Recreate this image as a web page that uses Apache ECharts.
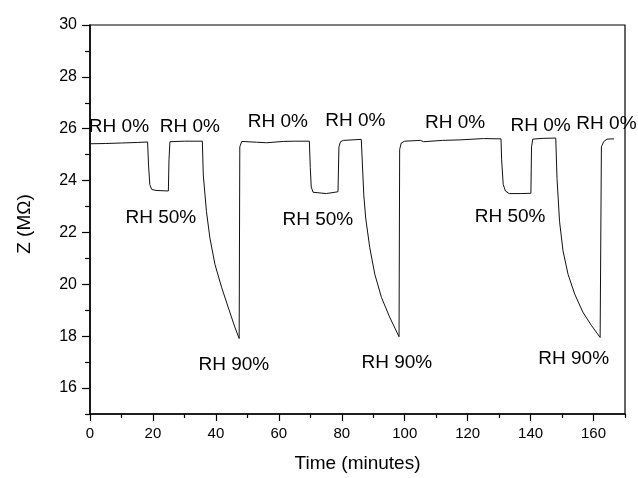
<!DOCTYPE html>
<html>
<head>
<meta charset="utf-8">
<script src="https://cdn.jsdelivr.net/npm/echarts@6/dist/echarts.min.js"></script>
<style>html,body{margin:0;padding:0;background:#fff;}#c{width:638px;height:478px;}</style>
</head>
<body>
<div id="c"></div>
<script>
// Time (minutes)
var times = [
  0, 5, 10, 15, 18.3, 18.6, 19.0, 19.6, 21, 24.9, 25.1, 25.4, 30, 35.7,
  36.0, 37.0, 38.1, 39.7, 41.8, 43.9, 46.0, 47.4, 47.6, 48.2, 52.9, 56.1, 61.4, 65, 69.7,
  70.0, 70.3, 70.9, 75.1, 78.8, 79.1, 79.6, 80.5, 86.2,
  86.6, 87.0, 87.6, 88.9, 90.5, 92.6, 95.2, 98.2, 98.4, 98.9, 100, 105, 106, 112, 117.5, 118, 125, 130.6,
  130.8, 131.3, 132, 133.2, 137, 140.1, 140.3, 140.7, 144, 148.0,
  148.4, 149.2, 150.3, 151.9, 154.0, 156.6, 159.3, 162.1, 162.5, 163.2, 164.3, 166.5
];
// Z (MOhm)
var values = [
  25.42, 25.43, 25.45, 25.47, 25.49, 24.6, 23.85, 23.66, 23.62, 23.60, 24.8, 25.50, 25.52, 25.52,
  24.21, 22.81, 21.79, 20.77, 19.89, 19.12, 18.36, 17.91, 25.30, 25.51, 25.48, 25.46, 25.51, 25.52, 25.52,
  24.50, 23.75, 23.55, 23.50, 23.57, 25.30, 25.50, 25.55, 25.59,
  25.55, 23.45, 22.56, 21.41, 20.39, 19.50, 18.74, 17.98, 25.20, 25.45, 25.52, 25.55, 25.50, 25.55, 25.57, 25.61, 25.62, 25.61,
  24.80, 23.85, 23.60, 23.50, 23.50, 23.51, 25.30, 25.60, 25.63, 25.64,
  24.08, 22.43, 21.29, 20.39, 19.63, 18.93, 18.42, 17.95, 25.30, 25.50, 25.60, 25.61
];
// Annotations
var labelTexts = ['RH 0%', 'RH 0%', 'RH 0%', 'RH 0%', 'RH 0%', 'RH 0%', 'RH 0%',
                  'RH 50%', 'RH 50%', 'RH 50%', 'RH 90%', 'RH 90%', 'RH 90%'];
var labelTimes = [9.2, 31.7, 59.7, 84.3, 116.0, 143.2, 164.1, 22.5, 72.4, 133.5, 45.7, 97.5, 153.7];
var labelValues = [26.07, 26.07, 26.26, 26.31, 26.22, 26.12, 26.18, 22.58, 22.49, 22.62, 16.91, 16.97, 17.14];
// Ticks
var xMajorTicks = [0, 20, 40, 60, 80, 100, 120, 140, 160];
var xMinorTicks = [10, 30, 50, 70, 90, 110, 130, 150, 170];
var yMajorTicks = [16, 18, 20, 22, 24, 26, 28, 30];
var yMinorTicks = [15, 17, 19, 21, 23, 25, 27, 29];

var FONT = 'Liberation Sans, Arial, sans-serif';
var lineData = times.map(function (t, i) { return [t, values[i]]; });
var labelData = labelTexts.map(function (s, i) { return { name: s, value: [labelTimes[i], labelValues[i]] }; });

var axisLine = { show: true, onZero: false, lineStyle: { color: '#000', width: 1.5 } };

var chart = echarts.init(document.getElementById('c'), null, { renderer: 'canvas' });
chart.setOption({
  backgroundColor: '#fff',
  animation: false,
  grid: { left: 90, right: 13, top: 25, bottom: 60, show: true, borderColor: '#000', borderWidth: 1.2, backgroundColor: 'transparent' },
  xAxis: [{
    type: 'value', min: 0, max: 170,
    name: 'Time (minutes)', nameLocation: 'middle', nameGap: 40,
    nameTextStyle: { fontFamily: FONT, fontSize: 19, color: '#000' },
    axisLine: axisLine,
    axisTick: { show: true, inside: false, length: 7, lineStyle: { color: '#000', width: 1.2 }, customValues: xMajorTicks },
    axisLabel: { show: true, margin: 12, fontFamily: FONT, fontSize: 15, color: '#000', customValues: xMajorTicks },
    splitLine: { show: false }
  }, {
    type: 'value', min: 0, max: 170, position: 'bottom',
    axisLine: { show: false },
    axisTick: { show: true, inside: false, length: 4, lineStyle: { color: '#000', width: 1.2 }, customValues: xMinorTicks },
    axisLabel: { show: false },
    splitLine: { show: false }
  }],
  yAxis: [{
    type: 'value', min: 15, max: 30,
    name: 'Z (MΩ)', nameLocation: 'middle', nameGap: 56, nameRotate: 90,
    nameTextStyle: { fontFamily: FONT, fontSize: 19, color: '#000', padding: [0, 9, 0, 0] },
    axisLine: axisLine,
    axisTick: { show: true, inside: false, length: 8, lineStyle: { color: '#000', width: 1.2 }, customValues: yMajorTicks },
    axisLabel: { show: true, margin: 13, fontFamily: FONT, fontSize: 16, color: '#000', customValues: yMajorTicks },
    splitLine: { show: false }
  }, {
    type: 'value', min: 15, max: 30, position: 'left',
    axisLine: { show: false },
    axisTick: { show: true, inside: false, length: 5, lineStyle: { color: '#000', width: 1.2 }, customValues: yMinorTicks },
    axisLabel: { show: false },
    splitLine: { show: false }
  }],
  series: [{
    type: 'line',
    data: lineData,
    showSymbol: false,
    symbol: 'none',
    lineStyle: { color: '#111', width: 1 },
    silent: true
  }, {
    type: 'scatter',
    data: labelData,
    symbolSize: 0,
    clip: false,
    silent: true,
    itemStyle: { opacity: 1 },
    label: {
      show: true, position: 'inside', formatter: '{b}', opacity: 1,
      fontFamily: FONT, fontSize: 19, color: '#000', textBorderWidth: 0, align: 'center', verticalAlign: 'middle'
    }
  }]
});
</script>
</body>
</html>
